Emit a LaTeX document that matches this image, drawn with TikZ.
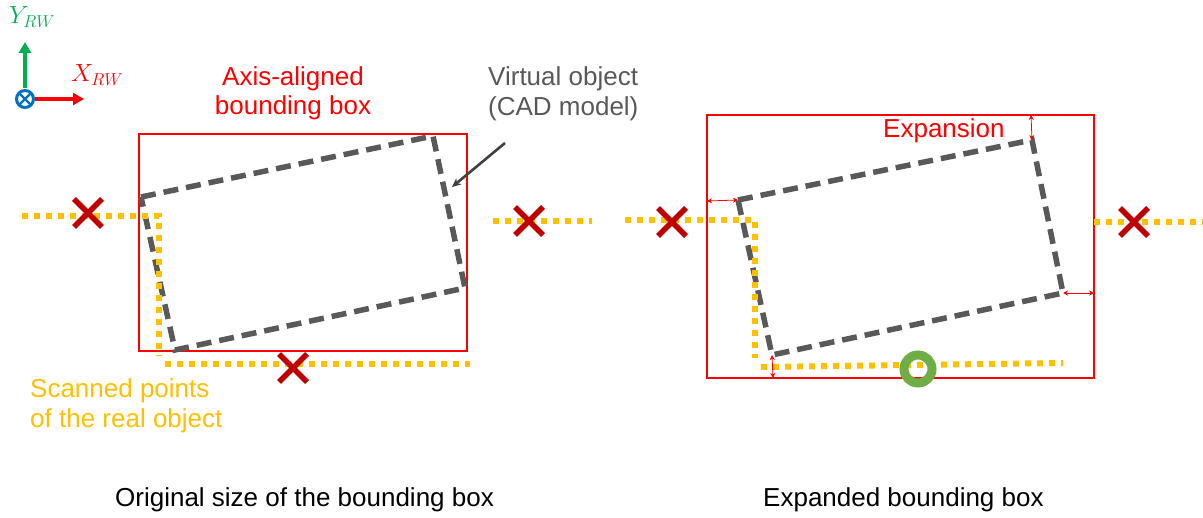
\documentclass[tikz,border=0pt]{standalone}
\usepackage{fontspec}
\setmainfont{Liberation Sans}
\usetikzlibrary{arrows.meta,calc}
\definecolor{bbred}{HTML}{FF0000}
\definecolor{crossred}{HTML}{C00000}
\definecolor{scanyellow}{HTML}{FFC000}
\definecolor{cadgray}{HTML}{595959}
\definecolor{leadgray}{HTML}{404040}
\definecolor{hitgreen}{HTML}{70AD47}
\definecolor{axisgreen}{HTML}{00B050}
\definecolor{axisblue}{HTML}{0070C0}
\tikzset{
  bbox/.style={draw=bbred, line width=1.6pt},
  cadline/.style={draw=cadgray, line width=5.5pt, dash pattern=on 15pt off 8pt, line join=miter},
  scanline/.style={draw=scanyellow, line width=6pt, dash pattern=on 6pt off 6pt},
  crossline/.style={draw=crossred, line width=5.5pt},
  expand/.style={draw=bbred, line width=0.8pt, {Stealth[length=5pt,width=5pt]}-{Stealth[length=5pt,width=5pt]}},
  lbl/.style={inner sep=0pt, anchor=base west, font=\fontsize{26}{30}\selectfont},
  axislbl/.style={inner sep=0pt, anchor=base west, font=\fontsize{25}{30}\selectfont},
  axisarrow/.style={line width=3.5pt, -{Triangle[length=11pt,width=12pt]}},
  xcross/.pic={\draw[crossline] (-14,-14) -- (14,14) (-14,14) -- (14,-14);},
}
\begin{document}
\begin{tikzpicture}[x=1pt, y=-1pt]
\useasboundingbox (0,0) rectangle (1203,518);

% ---------- world axes ----------
\coordinate (o) at (25,99);
\coordinate (ytip) at (25,42);
\coordinate (xtip) at (84,99);
\draw[axisgreen, axisarrow] (25,88) -- (ytip);
\draw[bbred, axisarrow] (35,99) -- (xtip);
\draw[axisblue, line width=3pt] (o) circle (8.5);
\draw[axisblue, line width=2.4pt] ($(o)+(-6,-6)$) -- ($(o)+(6,6)$) ($(o)+(-6,6)$) -- ($(o)+(6,-6)$);
\node[axislbl, text=axisgreen] (ylab) at (9,24) {$Y_{RW}$};
\node[axislbl, text=bbred] (xlab) at (71,82) {$X_{RW}$};

% ---------- left panel: original bounding box ----------
\draw[bbox] (139,134) rectangle (467,351);
\coordinate (a1) at (141,197);
\coordinate (a2) at (433,136);
\coordinate (a3) at (465,288);
\coordinate (a4) at (175,350);
\draw[cadline] (a1) -- (a2) -- (a3) -- (a4) -- cycle;

\draw[scanline] (22,216) -- (159,216) -- (159,356);
\draw[scanline] (165,364) -- (470,364);
\draw[scanline] (493,221) -- (592,221);

\pic at (88,213) {xcross};
\pic at (529,221) {xcross};
\pic at (293,368) {xcross};

\node[lbl, text=bbred, anchor=base] (aab1) at (293,86) {Axis-aligned};
\node[lbl, text=bbred, anchor=base] (aab2) at (293,115) {bounding box};

\node[lbl, text=cadgray] (vo1) at (488,86) {Virtual object};
\node[lbl, text=cadgray] (vo2) at (488,116) {(CAD model)};
\coordinate (vohit) at (452,187);
\draw[leadgray, line width=2.6pt, -{Stealth[length=9pt,width=8pt]}] (505,143) -- (vohit);

\node[lbl, text=scanyellow] (sp1) at (30,398) {Scanned points};
\node[lbl, text=scanyellow] (sp2) at (30,428) {of the real object};

\node[lbl] (cap1) at (115,507) {Original size of the bounding box};

% ---------- right panel: expanded bounding box ----------
\draw[bbox] (707,115) rectangle (1094,378);
\coordinate (b1) at (738,200);
\coordinate (b2) at (1032,140);
\coordinate (b3) at (1063,293);
\coordinate (b4) at (772,355);
\draw[cadline] (b1) -- (b2) -- (b3) -- (b4) -- cycle;

\draw[scanline] (625,220) -- (755,220) -- (755,358);
\draw[scanline] (761,367) -- (1063,363);
\draw[scanline] (1094,222) -- (1203,222);

\pic at (672,222) {xcross};
\pic at (1134,222) {xcross};

\draw[hitgreen, line width=9pt] (918,369) circle (14);

\draw[expand] (1031,115) -- (b2);
\draw[expand] (707,201) -- (b1);
\draw[expand] (b3) -- (1094,293);
\draw[expand] (b4) -- (773,378);

\node[lbl, text=bbred] (exp) at (883,138) {Expansion};

\node[lbl] (cap2) at (763,507) {Expanded bounding box};
\end{tikzpicture}
\end{document}
